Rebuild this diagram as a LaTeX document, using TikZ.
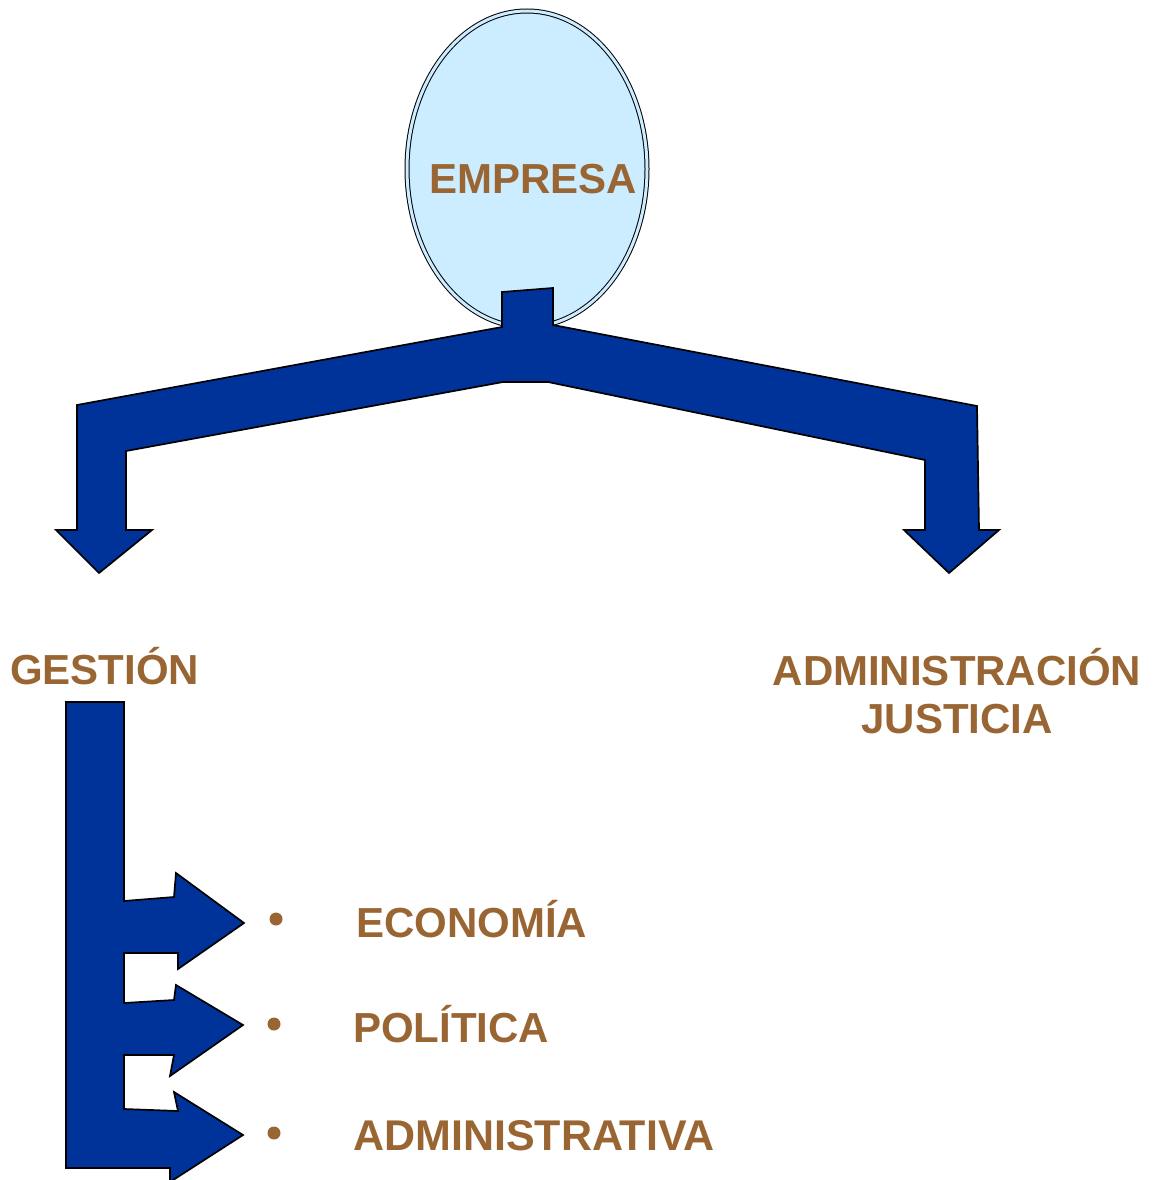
\documentclass[tikz,border=0pt]{standalone}
\usepackage{fontspec}
\setmainfont{Liberation Sans}
\usetikzlibrary{shapes.geometric}
\definecolor{txt}{HTML}{996633}
\definecolor{band}{HTML}{003399}
\definecolor{egg}{HTML}{CCECFF}
\begin{document}
\begin{tikzpicture}[x=1pt,y=-1pt,
  lbl/.style={text=txt, font=\bfseries\fontsize{42}{48}\selectfont, inner sep=0pt},
  blk/.style={fill=band, draw=black, line width=1.7pt, line join=miter},
  bullet/.style={circle, fill=txt, minimum size=13pt, inner sep=0pt}]
\useasboundingbox (0,0) rectangle (1153,1180);
% ellipse
\node[ellipse, draw=black, double=egg, double distance=3pt, line width=1pt, fill=egg,
      minimum width=240pt, minimum height=316pt, inner sep=0pt] (empresa) at (527,169) {};
\node[lbl, anchor=base] (tempresa) at (533,193) {EMPRESA};
% top split arrow
\draw[blk] (502,292) -- (553,288) -- (553,325) -- (977,406) -- (979,530) -- (999,530)
  -- (949,573) -- (904,530) -- (925,530) -- (925,460) -- (548,382) -- (503,382)
  -- (126,451) -- (126,530) -- (152,530) -- (99,573) -- (56,530) -- (77,530)
  -- (77,405) -- (502,327) -- cycle;
% bottom comb arrow
\draw[blk] (66,702) -- (124,702) -- (124,901) -- (174,897) -- (176,873) -- (244,923)
  -- (178,969) -- (178,953) -- (124,953) -- (124,1003) -- (174,1000) -- (176,985)
  -- (243,1025) -- (170,1076) -- (174,1055) -- (124,1055) -- (124,1109) -- (178,1111)
  -- (174,1092) -- (243,1135) -- (170,1182) -- (170,1168) -- (66,1168) -- cycle;
% labels
\node[lbl, anchor=base west] (gestion) at (10,684) {GESTIÓN};
\node[lbl, anchor=base] (adm) at (957,685) {ADMINISTRACIÓN};
\node[lbl, anchor=base] (jus) at (957,733) {JUSTICIA};
\node[bullet] (b1) at (276,919) {};
\node[bullet] (b2) at (274,1024) {};
\node[bullet] (b3) at (274,1133) {};
\node[lbl, anchor=base west] (eco) at (356,937) {ECONOMÍA};
\node[lbl, anchor=base west] (pol) at (353,1042) {POLÍTICA};
\node[lbl, anchor=base west] (admva) at (353,1150) {\fontsize{43}{48}\selectfont ADMINISTRATIVA};
\end{tikzpicture}
\end{document}
